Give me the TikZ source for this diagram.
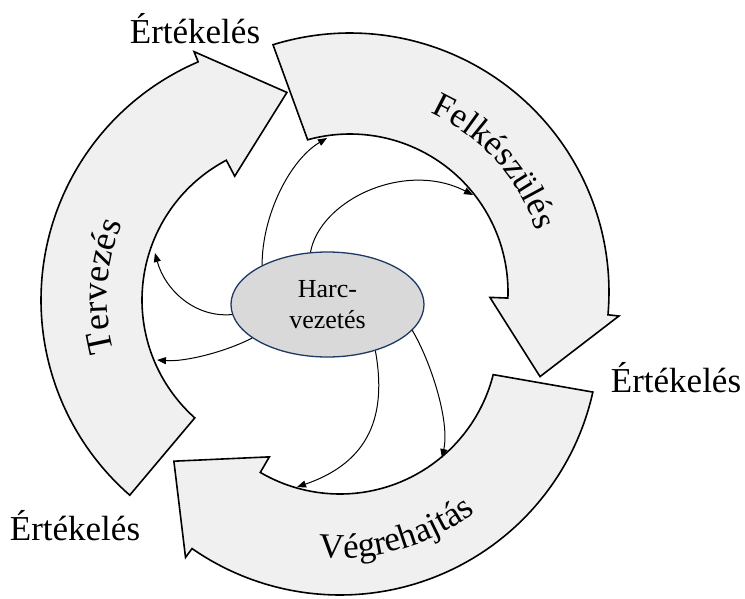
\documentclass[tikz,border=0pt]{standalone}
\usepackage{fontspec}
\setmainfont{Liberation Serif}
\usetikzlibrary{shapes.geometric,arrows.meta,decorations.text}
\definecolor{bandfill}{HTML}{F0F0F0}
\definecolor{hubfill}{HTML}{D9D9D9}
\definecolor{hubline}{HTML}{1F3864}
% ring arrow: #1,#2 centre; #3/#4 tail angle (outer/inner edge);
% #5/#6 head base angle (outer/inner edge); #7 tip angle.
% Angles run clockwise on the page (y axis points down).
\newcommand\cyclearrow[7]{%
  \filldraw[bandarrow]
    ({#1+259*cos(#3)},{#2+259*sin(#3)})
    -- plot[domain=0:1,samples=90,variable=\x]
       ({#1+259*cos((#3)+((#5)-(#3))*\x)},{#2+259*sin((#3)+((#5)-(#3))*\x)})
    -- ({#1+270*cos(#5)},{#2+270*sin(#5)})
    -- ({#1+208*cos(#7)},{#2+208*sin(#7)})
    -- ({#1+140*cos(#6)},{#2+140*sin(#6)})
    -- ({#1+158*cos(#6)},{#2+158*sin(#6)})
    -- plot[domain=0:1,samples=90,variable=\x]
       ({#1+158*cos((#6)+((#4)-(#6))*\x)},{#2+158*sin((#6)+((#4)-(#6))*\x)})
    -- cycle;}
\begin{document}
\begin{tikzpicture}[x=1pt,y=-1pt,
  bandarrow/.style={fill=bandfill,draw=black,line width=1.6pt,line join=miter},
  hub/.style={ellipse,fill=hubfill,draw=hubline,line width=1.3pt,
    minimum width=193pt,minimum height=105pt,inner sep=0pt,align=center,
    font=\fontsize{26}{31}\selectfont},
  phase/.style={font=\fontsize{35}{40}\selectfont},
  link/.style={line width=1pt,-{Triangle[length=9pt,width=7pt]}},
  arctext/.style={decorate,decoration={text along path,text align=center}}]
\useasboundingbox (0,0) rectangle (745,598);

% the three phases of the cycle
\cyclearrow{350}{292}{-107.3}{-105.6}{5.1}{2.2}{24}
\cyclearrow{300}{300}{131.1}{131.7}{246.9}{242.2}{266.4}
\cyclearrow{340}{336}{12.5}{14.1}{124.9}{120.3}{143}

% phase names along the arrows
\path[arctext,decoration={text={|\fontsize{35}{40}\selectfont|Felkészülés}}]
  plot[domain=0:1,samples=90,variable=\x]
  ({350+196*cos(-97+110*\x)},{292+196*sin(-97+110*\x)});
\path[arctext,decoration={text={|\fontsize{35}{40}\selectfont|Végrehajtás}}]
  plot[domain=0:1,samples=90,variable=\x]
  ({340+222*cos(129-110*\x)},{336+222*sin(129-110*\x)});
\path[arctext,decoration={text={|\fontsize{36}{40}\selectfont|Tervezés}}]
  plot[domain=0:1,samples=90,variable=\x]
  ({300+193*cos(134+100*\x)},{300+193*sin(134+100*\x)});

% evaluation points between the phases
\node[phase] (evalA) at (195,29) {Értékelés};
\node[phase] (evalB) at (676,378) {Értékelés};
\node[phase] (evalC) at (75,526) {Értékelés};

% command centre
\node[hub] (hub) at (327.5,304.5) {Harc-\\vezetés};

% targets on the inner edges of the phase arrows
\coordinate (f1) at (327,138);
\coordinate (f2) at (473,195);
\coordinate (t1) at (155,253);
\coordinate (t2) at (157,360);
\coordinate (v1) at (297,487);
\coordinate (v2) at (442,458);

\draw[link] (hub.149.5) .. controls (262,215) and (290,160) .. (f1);
\draw[link] (hub.108) .. controls (320,200) and (405,160) .. (f2);
\draw[link] (hub.186) .. controls (195,318) and (165,290) .. (t1);
\draw[link] (hub.204.6) .. controls (225,352) and (185,362) .. (t2);
\draw[link] (hub.316.8) .. controls (387,415) and (370,462) .. (v1);
\draw[link] (hub.343.4) .. controls (430,360) and (450,420) .. (v2);
\end{tikzpicture}
\end{document}
